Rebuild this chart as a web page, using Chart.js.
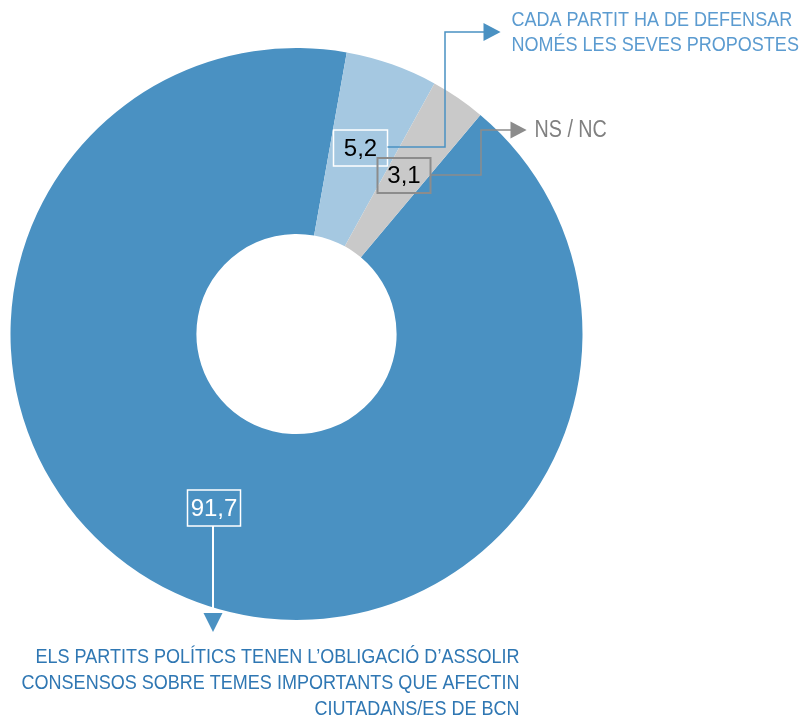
<!DOCTYPE html>
<html><head><meta charset="utf-8">
<script src="https://cdn.jsdelivr.net/npm/chart.js@4/dist/chart.umd.min.js"></script>
<style>html,body{margin:0;padding:0;background:#fff}#wrap{width:801px;height:720px;position:relative}</style>
</head><body><div id="wrap"><canvas id="c" width="801" height="720"></canvas></div>
<script>
const categories = [
  "ELS PARTITS POLÍTICS TENEN L'OBLIGACIÓ D'ASSOLIR CONSENSOS SOBRE TEMES IMPORTANTS QUE AFECTIN CIUTADANS/ES DE BCN",
  "CADA PARTIT HA DE DEFENSAR NOMÉS LES SEVES PROPOSTES",
  "NS / NC"
];
const values = [91.7, 5.2, 3.1];
const valueLabels = ["91,7", "5,2", "3,1"];
const colors = ["#4a91c2", "#a5c8e1", "#c9c9c9"];
const labelLines = [
  ["ELS PARTITS POLÍTICS TENEN L\u2019OBLIGACIÓ D\u2019ASSOLIR", "CONSENSOS SOBRE TEMES IMPORTANTS QUE AFECTIN", "CIUTADANS/ES DE BCN"],
  ["CADA PARTIT HA DE DEFENSAR", "NOMÉS LES SEVES PROPOSTES"],
  ["NS / NC"]
];

const FAM = "'Liberation Sans',Arial,sans-serif";
const NUMF = "24px " + FAM;

function arrow(ctx, x, y, dir, size, color) {
  ctx.fillStyle = color;
  ctx.beginPath();
  if (dir === 'right') { ctx.moveTo(x, y - size/2); ctx.lineTo(x + size*0.95, y); ctx.lineTo(x, y + size/2); }
  else { ctx.moveTo(x - size/2, y); ctx.lineTo(x + size/2, y); ctx.lineTo(x, y + size); }
  ctx.closePath(); ctx.fill();
}
function box(ctx, x, y, w, h, stroke, lw, txt, tcol) {
  ctx.strokeStyle = stroke; ctx.lineWidth = lw;
  ctx.strokeRect(x, y, w, h);
  ctx.fillStyle = tcol; ctx.font = NUMF;
  ctx.textAlign = 'center'; ctx.textBaseline = 'middle';
  ctx.fillText(txt, x + w/2, y + h/2 + 1);
}
// condensed text: horizontally squeezed label font
function narrowText(ctx, txt, x, y, align, sx, color, size) {
  ctx.save();
  ctx.font = size + "px " + FAM; ctx.fillStyle = color; ctx.textBaseline = 'middle'; ctx.textAlign = 'left';
  const w = ctx.measureText(txt).width * sx;
  const left = align === 'right' ? x - w : x;
  ctx.translate(left, y); ctx.scale(sx, 1);
  ctx.fillText(txt, 0, 0);
  ctx.restore();
}

const annot = {
  id: 'annot',
  afterDatasetsDraw(chart) {
    const ctx = chart.ctx;
    const arc = chart.getDatasetMeta(0).data[0];
    const cx = arc.x, cy = arc.y;
    ctx.save();
    ctx.font = "21px " + FAM;
    const sx = 484 / ctx.measureText(labelLines[0][0]).width;
    // --- 5,2 label
    const bx1 = cx + 37, by1 = cy - 204;
    box(ctx, bx1, by1, 54, 36, '#ffffff', 1.5, valueLabels[1], '#000');
    ctx.strokeStyle = '#4a91c2'; ctx.lineWidth = 1.5;
    ctx.beginPath(); ctx.moveTo(bx1 + 54, by1 + 17); ctx.lineTo(cx + 148.5, by1 + 17);
    ctx.lineTo(cx + 148.5, cy - 302); ctx.lineTo(cx + 188, cy - 302); ctx.stroke();
    arrow(ctx, cx + 187, cy - 302, 'right', 18, '#4a91c2');
    labelLines[1].forEach((t, i) => narrowText(ctx, t, cx + 215, cy - 314 + i * 25, 'left', sx, '#5b9bd0', 21));
    // --- 3,1 label
    const bx2 = cx + 81, by2 = cy - 176;
    box(ctx, bx2, by2, 53, 35, '#8c8c8c', 2, valueLabels[2], '#000');
    ctx.strokeStyle = '#8c8c8c'; ctx.lineWidth = 1.5;
    ctx.beginPath(); ctx.moveTo(bx2 + 53, by2 + 17); ctx.lineTo(cx + 184.5, by2 + 17);
    ctx.lineTo(cx + 184.5, cy - 204); ctx.lineTo(cx + 215, cy - 204); ctx.stroke();
    arrow(ctx, cx + 214, cy - 204, 'right', 17, '#8c8c8c');
    narrowText(ctx, labelLines[2][0], cx + 238, cy - 203, 'left', sx, '#808080', 23);
    // --- 91,7 label
    const bx3 = cx - 109, by3 = cy + 156;
    box(ctx, bx3, by3, 53, 36, '#ffffff', 1.5, valueLabels[0], '#ffffff');
    ctx.strokeStyle = '#ffffff'; ctx.lineWidth = 2;
    ctx.beginPath(); ctx.moveTo(cx - 83.5, by3 + 36); ctx.lineTo(cx - 83.5, cy + 279); ctx.stroke();
    arrow(ctx, cx - 83.5, cy + 279, 'down', 19, '#4a91c2');
    labelLines[0].forEach((t, i) => narrowText(ctx, t, cx + 223, cy + 323 + i * 26, 'right', sx, '#2f77b3', 21));
    ctx.restore();
  }
};

new Chart(document.getElementById('c'), {
  type: 'doughnut',
  data: { labels: categories, datasets: [{ data: values, backgroundColor: colors, borderWidth: 0 }] },
  options: {
    responsive: false, animation: false, rotation: 40, cutout: '35%',
    layout: { padding: { left: 10, right: 218, top: 48, bottom: 100 } },
    plugins: { legend: { display: false }, tooltip: { enabled: false } }
  },
  plugins: [annot]
});
</script></body></html>
